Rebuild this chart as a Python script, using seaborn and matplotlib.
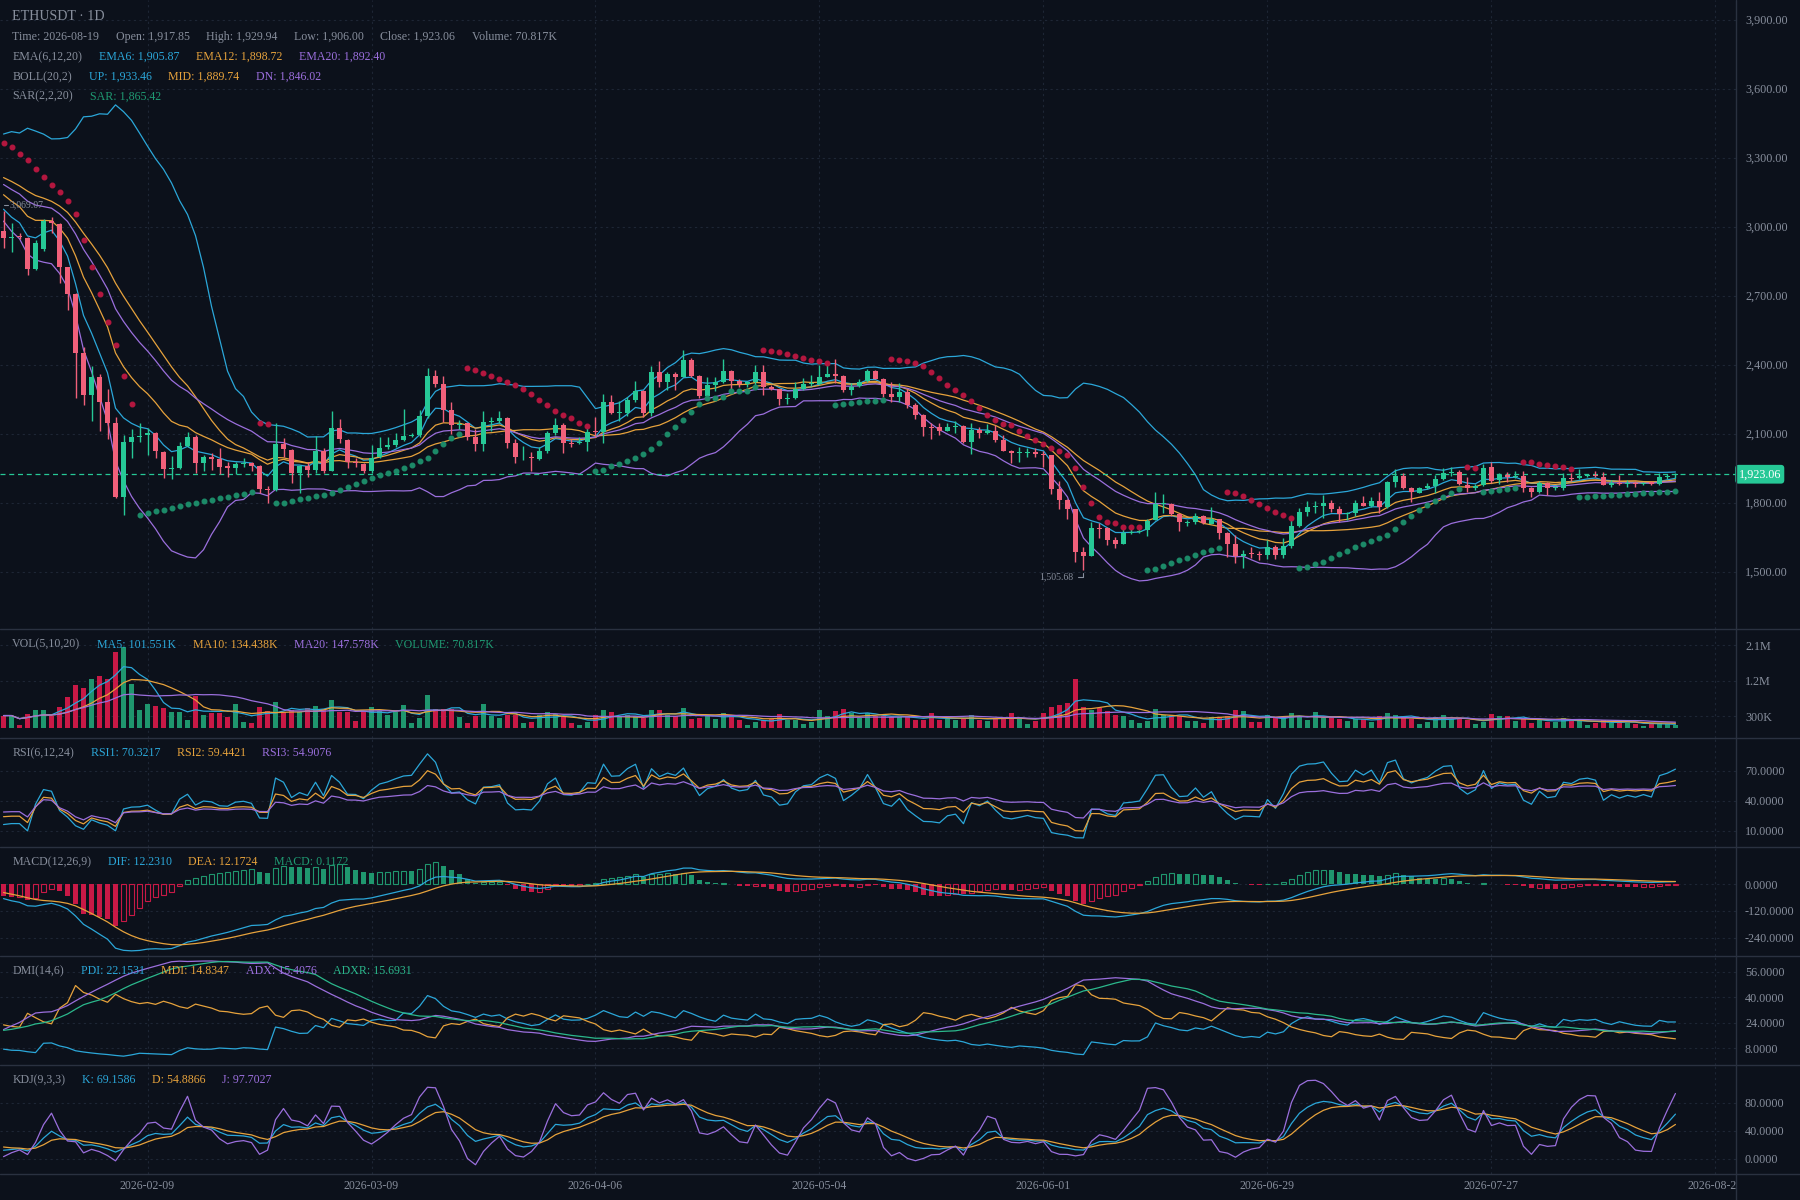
import numpy as np
import pandas as pd
import seaborn as sns
import matplotlib
matplotlib.use('Agg')
import matplotlib.pyplot as plt
from matplotlib.lines import Line2D
from matplotlib.transforms import blended_transform_factory

# Daily ETHUSDT candles, 2026-01-22 .. 2026-08-19
first_day = '2026-01-22'

opens = [
    2981, 2950, 2960, 2949, 2816, 2901, 3024, 3011, 2822, 2707,
    2449, 2268, 2345, 2235, 2145, 1826, 2065, 2085, 2093, 2101,
    2020, 1945, 1949, 2046, 2084, 1971, 1998, 1990, 1957, 1952,
    1968, 1971, 1961, 1858, 1855, 2055, 2029, 1930, 1961, 1942,
    2026, 1939, 2123, 2072, 1975, 1968, 1939, 1997, 2040, 2051,
    2072, 2090, 2094, 2177, 2351, 2316, 2203, 2137, 2145, 2087,
    2055, 2152, 2155, 2166, 2058, 1996, 1997, 1988, 2024, 2101,
    2136, 2058, 2058, 2065, 2110, 2108, 2236, 2191, 2188, 2246,
    2285, 2191, 2366, 2322, 2359, 2348, 2420, 2351, 2265, 2311,
    2326, 2372, 2329, 2316, 2322, 2366, 2304, 2293, 2251, 2255,
    2293, 2316, 2316, 2348, 2359, 2351, 2290, 2307, 2330, 2372,
    2337, 2272, 2258, 2280, 2224, 2181, 2127, 2127, 2113, 2127,
    2133, 2065, 2116, 2101, 2113, 2072, 2024, 2014, 2017, 2020,
    2010, 2006, 1859, 1811, 1772, 1586, 1569, 1690, 1688, 1637,
    1620, 1669, 1672, 1681, 1724, 1793, 1793, 1751, 1712, 1714,
    1743, 1707, 1727, 1669, 1620, 1568, 1577, 1575, 1572, 1608,
    1572, 1611, 1698, 1761, 1780, 1787, 1797, 1771, 1750, 1753,
    1797, 1787, 1807, 1782, 1891, 1916, 1862, 1843, 1865, 1872,
    1901, 1927, 1931, 1877, 1862, 1877, 1953, 1898, 1920, 1913,
    1916, 1865, 1848, 1884, 1862, 1865, 1906, 1906, 1916, 1919,
    1910, 1877, 1887, 1880, 1884, 1881, 1888, 1881, 1910, 1917.85,
]
highs = [
    3069.07, 3017, 2971, 2955, 2940, 3032, 3043, 3015, 2826, 2710,
    2478, 2394, 2358, 2293, 2171, 2094, 2119, 2148, 2122, 2105,
    2022, 2003, 2065, 2106, 2094, 2007, 2014, 2036, 1978, 1978,
    1993, 1978, 1963, 1872, 2145, 2080, 2032, 1964, 1978, 2090,
    2036, 2200, 2164, 2075, 1993, 1970, 2051, 2087, 2084, 2101,
    2207, 2101, 2203, 2384, 2377, 2351, 2235, 2159, 2148, 2119,
    2200, 2174, 2200, 2171, 2075, 2046, 2020, 2043, 2109, 2166,
    2145, 2075, 2084, 2123, 2171, 2271, 2268, 2242, 2258, 2329,
    2290, 2394, 2417, 2366, 2366, 2464, 2427, 2355, 2345, 2345,
    2424, 2375, 2337, 2329, 2398, 2398, 2311, 2294, 2275, 2322,
    2340, 2355, 2398, 2398, 2423, 2355, 2319, 2336, 2380, 2377,
    2340, 2323, 2319, 2293, 2232, 2185, 2148, 2145, 2145, 2155,
    2136, 2148, 2130, 2142, 2139, 2094, 2029, 2043, 2036, 2036,
    2022, 2007, 1894, 1817, 1773, 1607, 1717, 1713, 1695, 1652,
    1692, 1688, 1692, 1729, 1848, 1837, 1797, 1753, 1726, 1753,
    1745, 1779, 1730, 1672, 1658, 1594, 1608, 1590, 1637, 1616,
    1645, 1724, 1775, 1807, 1807, 1833, 1811, 1785, 1761, 1811,
    1829, 1823, 1848, 1895, 1945, 1930, 1869, 1866, 1884, 1920,
    1949, 1953, 1942, 1910, 1880, 1968, 1978, 1930, 1932, 1935,
    1935, 1869, 1895, 1891, 1872, 1927, 1927, 1945, 1924, 1935,
    1932, 1898, 1920, 1898, 1895, 1891, 1894, 1927, 1924, 1929.94,
]
lows = [
    2906, 2891, 2945, 2790, 2810, 2895, 2971, 2756, 2635, 2253,
    2224, 2156, 2113, 2075, 1819, 1746, 1993, 2065, 2007, 1993,
    1906, 1901, 1945, 2040, 1927, 1935, 1942, 1923, 1909, 1923,
    1956, 1937, 1843, 1800, 1850, 2000, 1887, 1840, 1913, 1927,
    1930, 1935, 2061, 1949, 1956, 1927, 1927, 1993, 2032, 2043,
    2069, 2085, 2087, 2166, 2304, 2152, 2098, 2119, 2072, 2026,
    2026, 2109, 2148, 2036, 1974, 1985, 1939, 1985, 2014, 2094,
    2017, 2043, 2055, 2022, 2087, 2061, 2185, 2156, 2177, 2235,
    2174, 2177, 2304, 2290, 2290, 2345, 2348, 2253, 2261, 2287,
    2319, 2287, 2304, 2304, 2311, 2268, 2290, 2224, 2229, 2251,
    2290, 2307, 2311, 2345, 2319, 2282, 2268, 2304, 2326, 2336,
    2261, 2235, 2239, 2210, 2164, 2091, 2077, 2094, 2109, 2104,
    2061, 2010, 2080, 2098, 2065, 2022, 1971, 1978, 2000, 1997,
    1956, 1837, 1771, 1727, 1543, 1505.68, 1566, 1645, 1616, 1601,
    1618, 1663, 1666, 1655, 1724, 1753, 1740, 1675, 1697, 1706,
    1707, 1705, 1640, 1565, 1536, 1514, 1558, 1550, 1555, 1553,
    1558, 1601, 1695, 1742, 1753, 1732, 1761, 1717, 1724, 1742,
    1785, 1782, 1753, 1775, 1866, 1858, 1804, 1840, 1858, 1840,
    1899, 1916, 1875, 1848, 1855, 1872, 1887, 1881, 1891, 1906,
    1848, 1823, 1843, 1833, 1855, 1855, 1895, 1901, 1913, 1909,
    1875, 1866, 1875, 1866, 1866, 1878, 1877, 1877, 1901, 1906.00,
]
closes = [
    2952, 2955, 2955, 2816, 2930, 3026, 3014, 2822, 2707, 2452,
    2268, 2345, 2235, 2148, 1826, 2062, 2085, 2088, 2103, 2022,
    1945, 1948, 2046, 2084, 1971, 1998, 1990, 1956, 1952, 1968,
    1971, 1961, 1858, 1855, 2055, 2032, 1930, 1961, 1942, 2026,
    1939, 2123, 2075, 1975, 1973, 1939, 1993, 2036, 2051, 2072,
    2090, 2094, 2177, 2351, 2316, 2203, 2137, 2143, 2087, 2055,
    2152, 2155, 2166, 2058, 1997, 1999, 1994, 2024, 2101, 2136,
    2058, 2055, 2065, 2108, 2106, 2236, 2191, 2194, 2246, 2285,
    2191, 2366, 2322, 2359, 2348, 2420, 2351, 2265, 2311, 2326,
    2372, 2330, 2316, 2322, 2366, 2304, 2294, 2251, 2255, 2293,
    2316, 2320, 2345, 2359, 2351, 2290, 2304, 2322, 2374, 2337,
    2272, 2258, 2280, 2224, 2181, 2127, 2124, 2113, 2127, 2130,
    2065, 2116, 2101, 2113, 2072, 2024, 2014, 2017, 2020, 2010,
    2007, 1859, 1811, 1772, 1587, 1569, 1688, 1686, 1637, 1620,
    1669, 1672, 1676, 1721, 1793, 1796, 1751, 1714, 1716, 1743,
    1710, 1727, 1669, 1620, 1568, 1577, 1575, 1572, 1608, 1572,
    1611, 1698, 1761, 1780, 1783, 1797, 1772, 1751, 1753, 1797,
    1787, 1807, 1782, 1891, 1916, 1862, 1848, 1862, 1872, 1901,
    1927, 1931, 1880, 1862, 1874, 1952, 1895, 1920, 1913, 1916,
    1865, 1848, 1884, 1862, 1865, 1906, 1903, 1916, 1919, 1916,
    1877, 1887, 1880, 1884, 1881, 1884, 1881, 1910, 1915, 1923.06,
]
# volume in thousands
volumes = [
    311, 311, 76, 353, 454, 454, 311, 521, 774, 1085,
    1009, 1236, 1312, 1236, 1926, 2060, 1110, 454, 605, 547,
    496, 395, 395, 202, 799, 328, 378, 378, 286, 605,
    143, 126, 530, 429, 656, 395, 463, 395, 496, 547,
    479, 706, 412, 412, 177, 437, 530, 429, 328, 395,
    580, 126, 261, 833, 479, 479, 479, 278, 126, 311,
    605, 311, 252, 336, 336, 126, 160, 328, 395, 353,
    294, 126, 76, 143, 328, 450, 390, 290, 333, 290,
    250, 450, 450, 333, 290, 500, 233, 250, 290, 233,
    375, 290, 208, 75, 150, 208, 225, 350, 208, 208,
    100, 150, 450, 308, 416, 475, 375, 250, 375, 290,
    290, 266, 275, 266, 208, 192, 375, 192, 225, 208,
    225, 333, 192, 183, 225, 250, 375, 225, 100, 167,
    375, 541, 583, 641, 1250, 541, 458, 500, 416, 333,
    290, 192, 125, 183, 475, 333, 333, 308, 183, 183,
    125, 275, 266, 290, 450, 416, 150, 150, 333, 250,
    275, 375, 275, 208, 400, 250, 250, 225, 167, 225,
    225, 150, 290, 375, 333, 275, 225, 100, 150, 275,
    316, 225, 225, 192, 100, 150, 350, 290, 290, 183,
    250, 125, 208, 150, 150, 250, 192, 167, 83, 125,
    192, 125, 167, 125, 100, 58, 100, 125, 100, 70.817,
]
# bars before the window, estimated so the indicators start where the chart's do
warmup_closes = [
    3300, 3335, 3310, 3350, 3325, 3290, 3340, 3275, 3310, 3255,
    3290, 3230, 3260, 3285, 3250, 3270, 3210, 3240, 3170, 3200,
    3140, 3160, 3090, 3040,
]
warmup_highs = [
    3330, 3375, 3345, 3390, 3360, 3335, 3380, 3350, 3350, 3320,
    3330, 3300, 3300, 3325, 3295, 3310, 3280, 3300, 3250, 3275,
    3210, 3235, 3170, 3100,
]
warmup_lows = [
    3265, 3275, 3280, 3285, 3295, 3260, 3265, 3245, 3250, 3225,
    3230, 3200, 3205, 3235, 3220, 3225, 3180, 3185, 3150, 3145,
    3120, 3115, 3075, 3025,
]
# SAR state on the first bar (red dot at ~3,362, falling)
sar_start = 3362
sar_af_start = 0.04

# legend values shown in the chart headers
ema_labels = ['EMA6: 1,905.87', 'EMA12: 1,898.72', 'EMA20: 1,892.40']
boll_labels = ['UP: 1,933.46', 'MID: 1,889.74', 'DN: 1,846.02']
sar_label = 'SAR: 1,865.42'
vol_labels = ['MA5: 101.551K', 'MA10: 134.438K', 'MA20: 147.578K', 'VOLUME: 70.817K']
rsi_labels = ['RSI1: 70.3217', 'RSI2: 59.4421', 'RSI3: 54.9076']
macd_labels = ['DIF: 12.2310', 'DEA: 12.1724', 'MACD: 0.1172']
dmi_labels = ['PDI: 22.1531', 'MDI: 14.8347', 'ADX: 15.4076', 'ADXR: 15.6931']
kdj_labels = ['K: 69.1586', 'D: 54.8866', 'J: 97.7027']
date_ticks = ['2026-02-09', '2026-03-09', '2026-04-06', '2026-05-04',
              '2026-06-01', '2026-06-29', '2026-07-27', '2026-08-24']

# colours
BG = '#0c111b'
GRID = '#1e2635'
SEP = '#2a3140'
TXT = '#878e9c'
CYAN = '#2ba7d9'
ORANGE = '#e6a23c'
PURPLE = '#9b6fdd'
LGREEN = '#1f9a72'
ADXR_C = '#2bb88c'
UP_C = '#26c896'
DN_C = '#f0607a'
VUP = '#1f966e'
VDN = '#c81946'

W, H = 1800, 1200


# ---------------- indicators ----------------
def sma_cn(s, n):
    return s.ewm(alpha=1.0 / n, adjust=False).mean()


def calc_sar(high, low, start, af0, step=0.02, max_af=0.2):
    '''Parabolic SAR, starting in a downtrend at the given level.'''
    n = len(high)
    sar = np.zeros(n)
    trend = np.zeros(n, dtype=bool)
    up = False
    af = af0
    ep = low[0]
    sar[0] = start
    for i in range(1, n):
        s = sar[i - 1] + af * (ep - sar[i - 1])
        j = max(i - 2, 0)
        if up:
            s = min(s, low[i - 1], low[j])
            if low[i] < s:
                up = False
                s = ep
                ep = low[i]
                af = step
            elif high[i] > ep:
                ep = high[i]
                af = min(af + step, max_af)
        else:
            s = max(s, high[i - 1], high[j])
            if high[i] > s:
                up = True
                s = ep
                ep = high[i]
                af = step
            elif low[i] < ep:
                ep = low[i]
                af = min(af + step, max_af)
        sar[i] = s
        trend[i] = up
    return sar, trend


nw = len(warmup_closes)
c_all = pd.Series(warmup_closes + closes, dtype=float)
h_all = pd.Series(warmup_highs + highs, dtype=float)
l_all = pd.Series(warmup_lows + lows, dtype=float)


def vis(s):
    return np.asarray(s)[nw:]


ema6 = vis(c_all.ewm(span=6, adjust=False).mean())
ema12 = vis(c_all.ewm(span=12, adjust=False).mean())
ema20 = vis(c_all.ewm(span=20, adjust=False).mean())

mid_all = c_all.rolling(20, min_periods=1).mean()
std_all = c_all.rolling(20, min_periods=1).std(ddof=0)
boll_mid = vis(mid_all)
boll_up = vis(mid_all + 2 * std_all)
boll_dn = vis(mid_all - 2 * std_all)

sar, sar_up = calc_sar(np.array(highs, float), np.array(lows, float),
                       sar_start, sar_af_start)

vol_s = pd.Series(volumes, dtype=float)
vma5 = vol_s.rolling(5, min_periods=1).mean().values
vma10 = vol_s.rolling(10, min_periods=1).mean().values
vma20 = vol_s.rolling(20, min_periods=1).mean().values

diff = c_all.diff().fillna(0)
gain = diff.clip(lower=0)
rsi = {}
for n in (6, 12, 24):
    rsi[n] = vis(sma_cn(gain, n) / sma_cn(diff.abs(), n) * 100)

e12 = c_all.ewm(span=12, adjust=False).mean()
e26 = c_all.ewm(span=26, adjust=False).mean()
dif_all = e12 - e26
dea_all = dif_all.ewm(span=9, adjust=False).mean()
dif = vis(dif_all)
dea = vis(dea_all)
hist = 2 * (dif - dea)

# DMI with Wilder smoothing
prev_c = c_all.shift(1)
tr = pd.concat([h_all - l_all, (h_all - prev_c).abs(), (l_all - prev_c).abs()],
               axis=1).max(axis=1).fillna(0)
hd = h_all.diff().fillna(0)
ld = (-l_all.diff()).fillna(0)
dmp = pd.Series(np.where((hd > 0) & (hd > ld), hd, 0.0))
dmm = pd.Series(np.where((ld > 0) & (ld > hd), ld, 0.0))
atr = sma_cn(tr, 14)
pdi_all = sma_cn(dmp, 14) / atr * 100
mdi_all = sma_cn(dmm, 14) / atr * 100
dx = ((mdi_all - pdi_all).abs() / (mdi_all + pdi_all) * 100).fillna(0)
adx_all = sma_cn(dx, 14)
adxr_all = (adx_all + adx_all.shift(6)) / 2
pdi, mdi, adx, adxr = vis(pdi_all), vis(mdi_all), vis(adx_all), vis(adxr_all)

llv = l_all.rolling(9, min_periods=1).min()
hhv = h_all.rolling(9, min_periods=1).max()
rsv = ((c_all - llv) / (hhv - llv) * 100).fillna(50)
k_all = sma_cn(rsv, 3)
d_all = sma_cn(k_all, 3)
kk, dd = vis(k_all), vis(d_all)
jj = 3 * kk - 2 * dd

# ---------------- figure ----------------
sns.set_theme(style='dark', rc={'axes.facecolor': BG, 'figure.facecolor': BG,
                                'savefig.facecolor': BG})
plt.rcParams['font.family'] = ['Liberation Serif', 'DejaVu Serif']

fig = plt.figure(figsize=(18, 12), dpi=100)
renderer = fig.canvas.get_renderer()

idx = np.arange(len(closes))
day0 = pd.Timestamp(first_day)
tick_pos = [(pd.Timestamp(d) - day0).days for d in date_ticks]
XMAX = 0.9644
XLIM = (-0.44, 216.56)

panel_h = 0.0908
main_bottom = 0.4758
bottoms = [main_bottom - panel_h * (k + 1) for k in range(5)]

ax_main = fig.add_axes([0, main_bottom, XMAX, 1 - main_bottom])
panels = [fig.add_axes([0, b, XMAX, panel_h], sharex=ax_main) for b in bottoms]
ax_vol, ax_rsi, ax_macd, ax_dmi, ax_kdj = panels


def style_axis(ax, ylim, ticks, labels):
    ax.set_facecolor(BG)
    ax.set_xlim(*XLIM)
    ax.set_ylim(*ylim)
    ax.set_xticks(tick_pos)
    ax.set_yticks(ticks)
    ax.set_yticklabels(labels)
    ax.yaxis.tick_right()
    ax.tick_params(axis='y', length=0, pad=6.5, labelsize=8.7, labelcolor=TXT)
    ax.tick_params(axis='x', length=0, labelbottom=False)
    ax.grid(True, color=GRID, linestyle=(0, (2, 3)), linewidth=0.8)
    ax.set_axisbelow(True)
    for sp in ax.spines.values():
        sp.set_visible(False)


def line(ax, y, color, lw=0.9):
    sns.lineplot(x=idx, y=np.asarray(y, dtype=float), ax=ax, color=color,
                 linewidth=lw)


def row(x0, y0, parts, size=8.6, gap=16.5):
    x = x0
    for txt, col in parts:
        t = fig.text(x / W, 1 - y0 / H, txt, color=col, fontsize=size,
                     ha='left', va='center')
        x += t.get_window_extent(renderer=renderer).width + gap


# ---- main price panel ----
price_ticks = list(range(1500, 4000, 300))
style_axis(ax_main, (1250, 3985), price_ticks, [f'{p:,.2f}' for p in price_ticks])

o = np.array(opens, dtype=float)
c = np.array(closes, dtype=float)
hgh = np.array(highs, dtype=float)
lw_ = np.array(lows, dtype=float)
rising = c >= o
cols = np.where(rising, UP_C, DN_C)
ax_main.vlines(idx, lw_, hgh, colors=cols, linewidth=1.0, zorder=3)
body_h = np.maximum(np.abs(c - o), 4.0)
ax_main.bar(idx, body_h, bottom=np.minimum(o, c), width=0.62, color=cols,
            linewidth=0, zorder=4)

for y, col in [(boll_up, CYAN), (boll_mid, ORANGE), (boll_dn, PURPLE),
               (ema6, CYAN), (ema12, ORANGE), (ema20, PURPLE)]:
    line(ax_main, y, col)
ax_main.plot(idx[sar_up], sar[sar_up], 'o', ms=3.3, color='#1c8a68',
             linestyle='none', zorder=5)
ax_main.plot(idx[~sar_up], sar[~sar_up], 'o', ms=3.3, color='#b3173f',
             linestyle='none', zorder=5)

last = closes[-1]
ax_main.axhline(last, color=UP_C, linestyle=(0, (4, 3)), linewidth=0.9, zorder=2)
tr_blend = blended_transform_factory(ax_main.transAxes, ax_main.transData)
ax_main.text(1.0015, last, f'{last:,.2f}', transform=tr_blend, ha='left',
             va='center', fontsize=8.7, color='white', clip_on=False,
             bbox=dict(boxstyle='round,pad=0.28', fc=UP_C, ec='none'))

# highest / lowest markers
i_hi = int(np.argmax(hgh))
i_lo = int(np.argmin(lw_))
ax_main.plot([i_hi, i_hi + 0.55], [hgh[i_hi] + 25, hgh[i_hi] + 25], color=TXT, lw=0.8)
ax_main.text(i_hi + 0.7, hgh[i_hi] + 25, f'{hgh[i_hi]:,.2f}', color=TXT,
             fontsize=7, ha='left', va='center')
ax_main.plot([i_lo - 0.7, i_lo, i_lo], [lw_[i_lo] - 28, lw_[i_lo] - 28, lw_[i_lo] - 10],
             color=TXT, lw=0.8)
ax_main.text(i_lo - 1.3, lw_[i_lo] - 28, f'{lw_[i_lo]:,.2f}', color=TXT,
             fontsize=7, ha='right', va='center')

# ---- volume ----
style_axis(ax_vol, (-259, 2510), [300, 1200, 2100], ['300K', '1.2M', '2.1M'])
ax_vol.bar(idx, volumes, width=0.62, color=np.where(rising, VUP, VDN), linewidth=0)
line(ax_vol, vma5, CYAN)
line(ax_vol, vma10, ORANGE)
line(ax_vol, vma20, PURPLE)

# ---- RSI ----
style_axis(ax_rsi, (-6.5, 103), [10, 40, 70], ['10.0000', '40.0000', '70.0000'])
line(ax_rsi, rsi[6], CYAN)
line(ax_rsi, rsi[12], ORANGE)
line(ax_rsi, rsi[24], PURPLE)

# ---- MACD ----
style_axis(ax_macd, (-323, 168), [-240, -120, 0],
           ['-240.0000', '-120.0000', '0.0000'])
prev_hist = np.concatenate([[hist[0]], hist[:-1]])
for i in idx:
    v = hist[i]
    col = VUP if v >= 0 else VDN
    hollow = v > prev_hist[i]
    hgt = v if abs(v) > 1.2 else (1.2 if v >= 0 else -1.2)
    if hollow:
        ax_macd.bar(i, hgt, width=0.55, facecolor=BG, edgecolor=col, linewidth=0.8)
    else:
        ax_macd.bar(i, hgt, width=0.62, color=col, linewidth=0)
line(ax_macd, dif, CYAN)
line(ax_macd, dea, ORANGE)

# ---- DMI ----
style_axis(ax_dmi, (-2.4, 66.1), [8, 24, 40, 56],
           ['8.0000', '24.0000', '40.0000', '56.0000'])
line(ax_dmi, pdi, CYAN)
line(ax_dmi, mdi, ORANGE)
line(ax_dmi, adx, PURPLE)
line(ax_dmi, adxr, ADXR_C)

# ---- KDJ ----
style_axis(ax_kdj, (-21.2, 134), [0, 40, 80], ['0.0000', '40.0000', '80.0000'])
line(ax_kdj, kk, CYAN)
line(ax_kdj, dd, ORANGE)
line(ax_kdj, jj, PURPLE)

# ---- date labels (clipped at the price axis like the original) ----
ax_dates = fig.add_axes([0, 0, XMAX, bottoms[-1]])
ax_dates.set_xlim(*XLIM)
ax_dates.set_ylim(0, 1)
ax_dates.axis('off')
for pos, lab in zip(tick_pos, date_ticks):
    ax_dates.text(pos, 0.55, lab, ha='center', va='center', color=TXT,
                  fontsize=8.5, clip_on=True)

# separators and price-axis line
for b in [main_bottom] + bottoms:
    fig.add_artist(Line2D([0, 1], [b, b], color=SEP, linewidth=1.0))
fig.add_artist(Line2D([XMAX, XMAX], [0, 1], color=SEP, linewidth=1.0))

# ---- header texts ----
fig.text(12.3 / W, 1 - 16.5 / H, 'ETHUSDT · 1D', color=TXT, fontsize=10.1,
         ha='left', va='center')
last_date = (day0 + pd.Timedelta(days=len(closes) - 1)).strftime('%Y-%m-%d')
row(12.3, 36.7, [(f'Time: {last_date}', TXT),
                 (f'Open: {opens[-1]:,.2f}', TXT),
                 (f'High: {highs[-1]:,.2f}', TXT),
                 (f'Low: {lows[-1]:,.2f}', TXT),
                 (f'Close: {closes[-1]:,.2f}', TXT),
                 (f'Volume: {volumes[-1]:.3f}K', TXT)])
row(12.3, 56.8, [('EMA(6,12,20)', TXT)] + list(zip(ema_labels, [CYAN, ORANGE, PURPLE])))
row(12.3, 76.8, [('BOLL(20,2)', TXT)] + list(zip(boll_labels, [CYAN, ORANGE, PURPLE])))
row(12.3, 96.6, [('SAR(2,2,20)', TXT), (sar_label, LGREEN)])

tops = [H * (1 - main_bottom) + H * panel_h * k for k in range(5)]
row(12.3, tops[0] + 15.5, [('VOL(5,10,20)', TXT)] +
    list(zip(vol_labels, [CYAN, ORANGE, PURPLE, LGREEN])))
row(12.3, tops[1] + 15.5, [('RSI(6,12,24)', TXT)] +
    list(zip(rsi_labels, [CYAN, ORANGE, PURPLE])))
row(12.3, tops[2] + 15.5, [('MACD(12,26,9)', TXT)] +
    list(zip(macd_labels, [CYAN, ORANGE, LGREEN])))
row(12.3, tops[3] + 15.5, [('DMI(14,6)', TXT)] +
    list(zip(dmi_labels, [CYAN, ORANGE, PURPLE, ADXR_C])))
row(12.3, tops[4] + 15.5, [('KDJ(9,3,3)', TXT)] +
    list(zip(kdj_labels, [CYAN, ORANGE, PURPLE])))

fig.savefig('out.png', dpi=100, facecolor=BG)
